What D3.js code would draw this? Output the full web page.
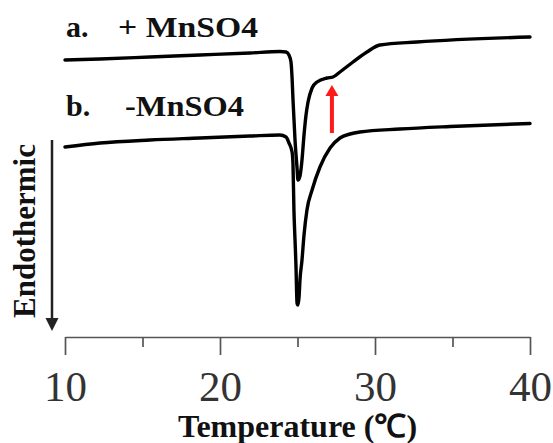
<!DOCTYPE html>
<html>
<head>
<meta charset="utf-8">
<script src="https://cdn.jsdelivr.net/npm/d3@7"></script>
<style>
  body { margin: 0; background: #fff; }
</style>
</head>
<body>
<div id="chart"></div>
<script>
// DSC curves, temperature in C, heat flow in arbitrary units (endothermic down)
const tempA = [10, 12.26, 15.48, 18.71, 21.94, 23.87, 24.26, 24.45, 24.58, 24.65, 24.71, 24.84, 24.97, 25.03,
  25.16, 25.29, 25.42, 25.55, 25.68, 25.94, 26.26, 26.9, 27.29, 27.74, 28.58, 29.48, 30.32, 32.71, 40];
const flowA = [27.7, 27.8, 28.0, 28.2, 28.4, 28.55, 28.5, 28.2, 27.5, 25.9, 23.7, 19.7, 16.9, 15.7,
  16.1, 17.7, 20.2, 22.2, 23.5, 24.9, 25.5, 25.9, 26.0, 26.5, 27.5, 28.5, 29.2, 29.5, 30.0];

const tempB = [10, 12.26, 15.48, 18.71, 21.94, 23.87, 24.26, 24.45, 24.65, 24.71, 24.77, 24.84, 24.9, 24.97,
  25.03, 25.1, 25.16, 25.29, 25.42, 25.61, 25.94, 26.45, 27.1, 27.74, 28.39, 29.03, 31.61, 34.84, 40];
const flowB = [19.0, 19.4, 19.7, 19.9, 20.1, 20.2, 20.0, 19.4, 18.5, 17.2, 12.7, 9.7, 7.2, 3.4,
  3.2, 4.0, 5.7, 7.7, 10.2, 12.7, 14.7, 17.0, 18.9, 19.9, 20.3, 20.5, 20.8, 21.05, 21.35];

const majorTicks = [10, 20, 30, 40];
const minorTicks = [15, 25, 35];

// red arrow marking the shoulder on curve a
const arrowT = 27.22;
const arrowFrom = 20.4;
const arrowTo = 25.2;

const width = 553, height = 443;

const svg = d3.select("#chart")
  .append("svg")
  .attr("width", width)
  .attr("height", height);

const x = d3.scaleLinear().domain([10, 40]).range([65, 530]);
const y = d3.scaleLinear().domain([0, 30]).range([337, 37]);

// x axis
const xAxis = svg.append("g")
  .attr("transform", `translate(0,${y(0)})`)
  .call(d3.axisBottom(x).tickValues(majorTicks).tickSize(18).tickSizeOuter(0));

xAxis.select(".domain").attr("stroke", "#555").attr("stroke-width", 1.7);
xAxis.selectAll(".tick line").attr("stroke", "#555").attr("stroke-width", 1.7);
xAxis.selectAll(".tick text")
  .attr("y", 64)
  .attr("dy", null)
  .style("font-family", "'Liberation Serif', 'Times New Roman', serif")
  .style("font-size", "43px")
  .attr("fill", "#333");

const xMinor = svg.append("g")
  .attr("transform", `translate(0,${y(0)})`)
  .call(d3.axisBottom(x).tickValues(minorTicks).tickSize(10).tickSizeOuter(0).tickFormat(""));
xMinor.select(".domain").remove();
xMinor.selectAll(".tick line").attr("stroke", "#555").attr("stroke-width", 1.7);

svg.append("text")
  .attr("x", x(25))
  .attr("y", 437)
  .attr("text-anchor", "middle")
  .style("font-family", "'Liberation Serif', 'Times New Roman', serif")
  .style("font-weight", "bold")
  .style("font-size", "32px")
  .attr("fill", "#111")
  .text("Temperature (\u2103)");

// y label with downward arrow
svg.append("text")
  .attr("transform", "translate(35,231) rotate(-90)")
  .attr("text-anchor", "middle")
  .style("font-family", "'Liberation Serif', 'Times New Roman', serif")
  .style("font-weight", "bold")
  .style("font-size", "31px")
  .attr("fill", "#111")
  .text("Endothermic");

svg.append("line")
  .attr("x1", 52).attr("x2", 52)
  .attr("y1", 140).attr("y2", 320)
  .attr("stroke", "#222")
  .attr("stroke-width", 2.5);

svg.append("path")
  .attr("d", "M45.5,318 L58.5,318 L52,331 Z")
  .attr("fill", "#222");

// curves
const line = d3.line()
  .x(d => x(d[0]))
  .y(d => y(d[1]))
  .curve(d3.curveMonotoneX);

svg.append("path")
  .datum(d3.zip(tempA, flowA))
  .attr("fill", "none")
  .attr("stroke", "#000")
  .attr("stroke-width", 3.4)
  .attr("stroke-linejoin", "round")
  .attr("stroke-linecap", "round")
  .attr("d", line);

svg.append("path")
  .datum(d3.zip(tempB, flowB))
  .attr("fill", "none")
  .attr("stroke", "#000")
  .attr("stroke-width", 3.4)
  .attr("stroke-linejoin", "round")
  .attr("stroke-linecap", "round")
  .attr("d", line);

// red arrow
const ax = x(arrowT);
svg.append("line")
  .attr("x1", ax).attr("x2", ax)
  .attr("y1", y(arrowFrom)).attr("y2", y(arrowTo) + 10)
  .attr("stroke", "#ff1a1a")
  .attr("stroke-width", 4);

svg.append("path")
  .attr("d", `M${ax - 6.5},${y(arrowTo) + 11} L${ax + 6.5},${y(arrowTo) + 11} L${ax},${y(arrowTo)} Z`)
  .attr("fill", "#ff1a1a");

// curve labels
const labelFont = "'Liberation Serif', 'Times New Roman', serif";

svg.append("text").attr("x", 66).attr("y", 37)
  .style("font-family", labelFont).style("font-weight", "bold").style("font-size", "30px")
  .attr("fill", "#111").text("a.");
svg.append("text").attr("x", 118).attr("y", 37)
  .attr("textLength", 140).attr("lengthAdjust", "spacingAndGlyphs")
  .style("font-family", labelFont).style("font-weight", "bold").style("font-size", "30px")
  .attr("fill", "#111").text("+ MnSO4");

svg.append("text").attr("x", 66).attr("y", 116)
  .style("font-family", labelFont).style("font-weight", "bold").style("font-size", "30px")
  .attr("fill", "#111").text("b.");
svg.append("text").attr("x", 125).attr("y", 116)
  .attr("textLength", 119).attr("lengthAdjust", "spacingAndGlyphs")
  .style("font-family", labelFont).style("font-weight", "bold").style("font-size", "30px")
  .attr("fill", "#111").text("-MnSO4");
</script>
</body>
</html>
